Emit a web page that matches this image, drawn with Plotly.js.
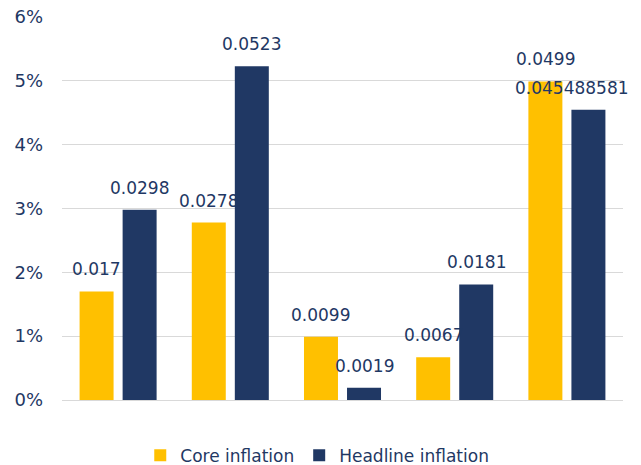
<!DOCTYPE html>
<html>
<head>
<meta charset="utf-8">
<script src="https://cdn.plot.ly/plotly-3.0.1.min.js"></script>
<style>html,body{margin:0;padding:0;background:#fff;}#chart{width:641px;height:465px;}</style>
</head>
<body>
<div id="chart"></div>
<script>
var categories = ["A", "B", "C", "D", "E"];
var coreInflation = [0.017, 0.0278, 0.0099, 0.0067, 0.0499];
var headlineInflation = [0.0298, 0.0523, 0.0019, 0.0181, 0.045488581];
var seriesNames = ["Core inflation", "Headline inflation"];
var tickVals = [0, 0.01, 0.02, 0.03, 0.04, 0.05, 0.06];
var tickText = ["0%", "1%", "2%", "3%", "4%", "5%", "6%"];

var textColor = "#1F3864";
var fam = "DejaVu Sans, Verdana, sans-serif";
var bargap = 0.233, bargroupgap = 0.21;
var slot = (1 - bargap) / 2;
var labelFont = {family: fam, size: 17, color: textColor};

var traces = [
  {type: "bar", name: seriesNames[0], x: categories, y: coreInflation,
   marker: {color: "#FFC000"}, hoverinfo: "none"},
  {type: "bar", name: seriesNames[1], x: categories, y: headlineInflation,
   marker: {color: "#203864"}, hoverinfo: "none"}
];

// data labels, placed on each bar through the axes
var annotations = [];
[coreInflation, headlineInflation].forEach(function (vals, s) {
  var off = (s === 0 ? -1 : 1) * slot / 2;
  vals.forEach(function (v, i) {
    var a = {x: i + off, y: v, xref: "x", yref: "y", text: String(v), showarrow: false,
             yanchor: "bottom", xanchor: "center", yshift: 10, font: labelFont};
    if (s === 1 && i === vals.length - 1) a.xshift = -16; // keep inside chart edge
    annotations.push(a);
  });
});

var layout = {
  width: 641, height: 465,
  margin: {l: 62, r: 18, t: 17, b: 65, autoexpand: false},
  paper_bgcolor: "#fff", plot_bgcolor: "#fff",
  barmode: "group", bargap: bargap, bargroupgap: bargroupgap,
  font: {family: fam, size: 17, color: textColor},
  showlegend: true,
  legend: {orientation: "h", x: 0.455, xanchor: "center", yref: "container", y: 0.02, yanchor: "middle",
           font: {family: fam, size: 17, color: textColor}, itemwidth: 30, tracegroupgap: 0},
  xaxis: {range: [-0.5, categories.length - 0.5], autorange: false, showticklabels: false,
          showgrid: false, zeroline: false, showline: false, ticks: ""},
  yaxis: {range: [0, 0.06], autorange: false, tickvals: tickVals, ticktext: tickText, showgrid: true,
          gridcolor: "#D9D9D9", gridwidth: 1, zeroline: true, zerolinecolor: "#D9D9D9",
          zerolinewidth: 1, showline: false, ticks: "", ticklen: 0, ticklabelstandoff: 18,
          tickfont: {family: fam, size: 18, color: textColor}},
  annotations: annotations
};

Plotly.newPlot("chart", traces, layout, {displayModeBar: false, staticPlot: true});
</script>
</body>
</html>
